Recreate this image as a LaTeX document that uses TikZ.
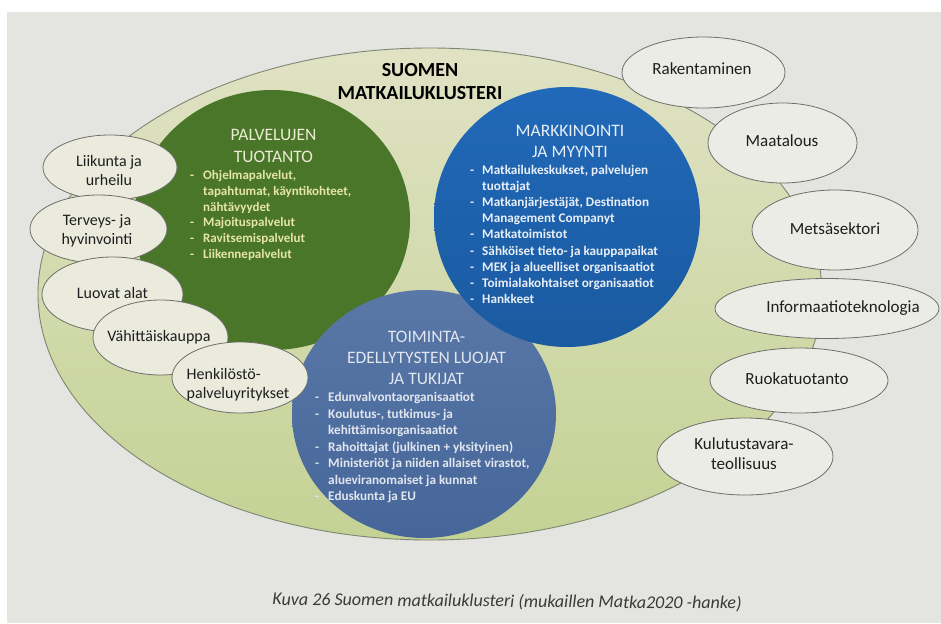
\documentclass[tikz,border=0pt]{standalone}
\usepackage{fontspec}
\setmainfont{Carlito}
\usetikzlibrary{shapes.geometric}
\definecolor{pagebg}{HTML}{E4E4E0}
\definecolor{clustertop}{HTML}{E0E2C4}
\definecolor{clusterbot}{HTML}{C4D294}
\definecolor{clusterline}{HTML}{7E8673}
\definecolor{greenc}{HTML}{4A7629}
\definecolor{bluec}{HTML}{2169B9}
\definecolor{bluec2}{HTML}{1A5AA0}
\definecolor{slatec}{HTML}{5978A7}
\definecolor{slatec2}{HTML}{46669A}
\definecolor{ellfill}{HTML}{EAEADD}
\definecolor{ellfillr}{HTML}{ECECE7}
\definecolor{ellline}{HTML}{6E6E6A}
\definecolor{txtdark}{HTML}{1E1E1E}
\definecolor{greentxt}{HTML}{ECEBD4}
\definecolor{greenlist}{HTML}{E6E4AA}
\definecolor{bluetxt}{HTML}{E8EEF6}
\definecolor{slatetxt}{HTML}{E2E6EE}
\definecolor{captxt}{HTML}{3A3A3A}
\newcommand{\mctab}[1]{\begin{tabular}[t]{@{}c@{}}#1\end{tabular}}
\newcommand{\mltab}[1]{\begin{tabular}[t]{@{}l@{}}#1\end{tabular}}
\newcommand{\mdtab}[2]{\begin{tabular}[t]{@{}l@{\hspace{#1}}l@{}}#2\end{tabular}}
\begin{document}
\begin{tikzpicture}[x=1pt,y=-1pt,
  circ/.style={ellipse, inner sep=0pt, outer sep=0pt},
  sell/.style={ellipse, draw=ellline, line width=0.8pt, fill=ellfill, inner sep=0pt},
  rell/.style={sell, fill=ellfillr},
  lbl/.style={inner sep=0pt, text=txtdark, font=\fontsize{16}{19}\selectfont, anchor=base},
  rlbl/.style={lbl, font=\fontsize{17}{20}\selectfont},
  head/.style={inner sep=0pt, anchor=base},
  list/.style={inner sep=0pt, anchor=base west},
]
\useasboundingbox (0,0) rectangle (941,623);
\fill[white] (0,0) rectangle (941,623);
\fill[pagebg] (7,12) rectangle (941,623);

% main cluster
\node[circ, top color=clustertop, bottom color=clusterbot, draw=clusterline, line width=0.9pt,
      minimum width=784pt, minimum height=492pt] (cluster) at (430,294) {};

% three circles
\node[circ, fill=greenc, minimum width=276pt, minimum height=260pt] (prod) at (272,220) {};
\node[circ, top color=slatec, bottom color=slatec2, minimum width=264pt, minimum height=248pt] (supp) at (424,414) {};
\node[circ, top color=bluec, bottom color=bluec2, minimum width=266pt, minimum height=260pt] (mark) at (567,217) {};

% left ellipses
\node[sell, minimum width=134pt, minimum height=65pt] (liik) at (110,167.5) {};
\node[sell, minimum width=137pt, minimum height=68pt] (terv) at (98.5,229) {};
\node[sell, minimum width=141pt, minimum height=75pt] (luov) at (112.5,294.5) {};
\node[sell, minimum width=135pt, minimum height=75pt] (vahi) at (160.5,337.5) {};
\node[sell, minimum width=136pt, minimum height=71pt] (henk) at (240,377.5) {};

% right ellipses
\node[rell, minimum width=163pt, minimum height=71pt] (rake) at (703.5,72.5) {};
\node[rell, minimum width=149pt, minimum height=80pt] (maat) at (782.5,143) {};
\node[rell, minimum width=166pt, minimum height=80pt] (mets) at (835,230) {};
\node[rell, minimum width=224pt, minimum height=60pt] (info) at (827,308.5) {};
\node[rell, minimum width=178pt, minimum height=65pt] (ruok) at (799,380.5) {};
\node[rell, minimum width=176pt, minimum height=77pt] (kulu) at (745,456.5) {};

% labels of small ellipses
\node[lbl] (tliik) at (109,166) {\mctab{Liikunta ja\\urheilu}};
\node[lbl] (tterv) at (97,225.5) {\mctab{Terveys- ja\\hyvinvointi}};
\node[lbl] (tluov) at (112.5,298.5) {Luovat alat};
\node[lbl] (tvahi) at (159,341) {Vähittäiskauppa};
\node[lbl, anchor=base west] (thenk) at (186.5,379) {\mltab{Henkilöstö-\\palveluyritykset}};

\node[rlbl] (trake) at (702,75) {Rakentaminen};
\node[rlbl] (tmaat) at (782,146) {Maatalous};
\node[rlbl] (tmets) at (835,234) {Metsäsektori};
\node[rlbl] (tinfo) at (843,312) {Informaatioteknologia};
\node[rlbl] (truok) at (797,384) {Ruokatuotanto};
\node[rlbl] (tkulu) at (744,449) {\mctab{Kulutustavara-\\teollisuus}};

% title
\node[head, text=black, font=\bfseries\fontsize{20}{23}\selectfont] (title) at (420,77) {\mctab{SUOMEN\\MATKAILUKLUSTERI}};

% circle headings
\node[head, text=greentxt, font=\fontsize{17.5}{22}\selectfont] (hprod) at (273.5,140.6) {\mctab{PALVELUJEN\\TUOTANTO}};
\node[head, text=bluetxt, font=\fontsize{17.5}{21}\selectfont] (hmark) at (570,136.6) {\mctab{MARKKINOINTI\\JA MYYNTI}};
\node[head, text=slatetxt, font=\fontsize{17.5}{20.7}\selectfont] (hsupp) at (426.5,342.6) {\mctab{TOIMINTA-\\EDELLYTYSTEN LUOJAT\\JA TUKIJAT}};

% lists
\node[list, text=greenlist, font=\bfseries\fontsize{13}{15.8}\selectfont] (lprod) at (190,179.5)
  {\mdtab{9pt}{-&Ohjelmapalvelut,\\&tapahtumat, käyntikohteet,\\&nähtävyydet\\-&Majoituspalvelut\\-&Ravitsemispalvelut\\-&Liikennepalvelut}};
\node[list, text=bluetxt, font=\bfseries\fontsize{13.2}{16.1}\selectfont] (lmark) at (470,174.5)
  {\mdtab{8pt}{-&Matkailukeskukset, palvelujen\\&tuottajat\\-&Matkanjärjestäjät, Destination\\&Management Companyt\\-&Matkatoimistot\\-&Sähköiset tieto- ja kauppapaikat\\-&MEK ja alueelliset organisaatiot\\-&Toimialakohtaiset organisaatiot\\-&Hankkeet}};
\node[list, text=slatetxt, font=\bfseries\fontsize{13.2}{16.5}\selectfont] (lsupp) at (315,401.5)
  {\mdtab{9pt}{-&Edunvalvontaorganisaatiot\\-&Koulutus-, tutkimus- ja\\&kehittämisorganisaatiot\\-&Rahoittajat (julkinen + yksityinen)\\-&Ministeriöt ja niiden allaiset virastot,\\&alueviranomaiset ja kunnat\\-&Eduskunta ja EU}};

% caption
\node[inner sep=0pt, anchor=base, rotate=-0.5, text=captxt, font=\itshape\fontsize{18}{22}\selectfont] (cap) at (507,607)
  {Kuva 26 Suomen matkailuklusteri (mukaillen Matka2020 -hanke)};
\end{tikzpicture}
\end{document}
